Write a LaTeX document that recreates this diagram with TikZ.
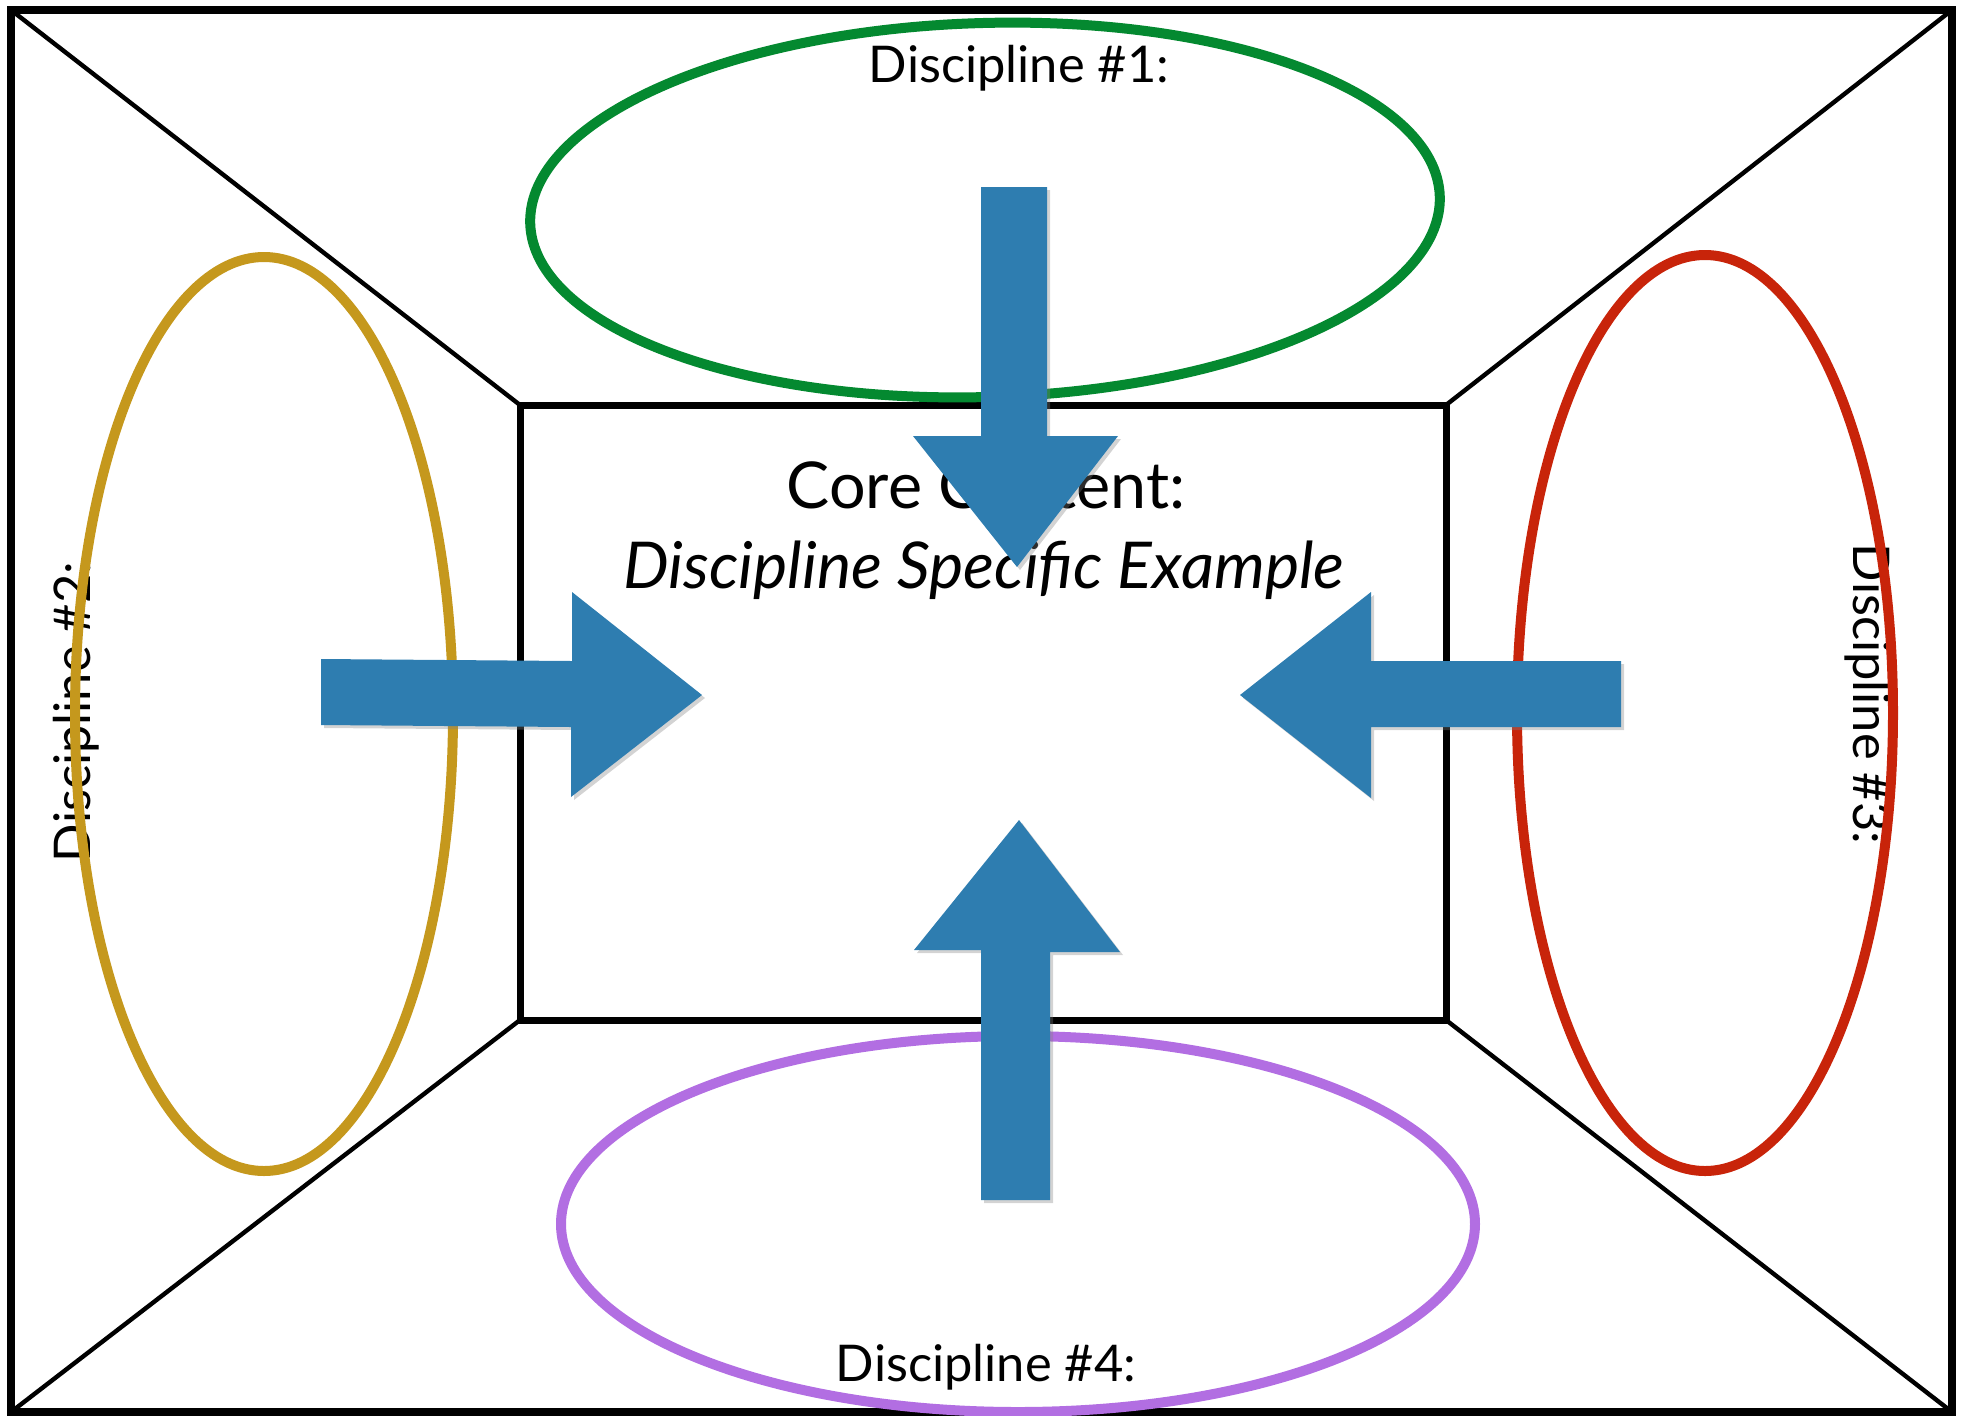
\documentclass[tikz,border=0pt]{standalone}
\usepackage{fontspec}
\setmainfont{Lato}
\usetikzlibrary{shapes.geometric,shadows}

\definecolor{ringgreen}{RGB}{4,137,48}
\definecolor{ringgold}{RGB}{197,152,29}
\definecolor{ringred}{RGB}{200,36,10}
\definecolor{ringpurple}{RGB}{178,110,226}
\definecolor{arrowblue}{RGB}{46,125,176}

\tikzset{
  ring/.style={ellipse,draw,line width=5pt,inner sep=0pt,fill=none},
  label/.style={inner sep=0pt,font=\fontsize{25.3}{30}\selectfont},
  corelabel/.style={inner sep=0pt,font=\fontsize{32.3}{38}\selectfont},
  bluearrow/.style={fill=arrowblue,drop shadow={shadow xshift=1.5pt,shadow yshift=-1.5pt,opacity=.35}}
}

\begin{document}
\begin{tikzpicture}
[x=0.5pt,y=-0.5pt]
  \useasboundingbox (0,0) rectangle (1965,1415);

  % frame and room corners
  \coordinate (o1) at (11,10);
  \coordinate (o2) at (1952,10);
  \coordinate (o3) at (1952,1412);
  \coordinate (o4) at (11,1412);
  \coordinate (i1) at (520,405);
  \coordinate (i2) at (1446,405);
  \coordinate (i3) at (1446,1020);
  \coordinate (i4) at (520,1020);

  \draw[line width=4pt] (o1) rectangle (o3);
  \foreach \from/\to in {o1/i1,o2/i2,o3/i3,o4/i4}
    \draw[line width=2.2pt] (\from) -- (\to);
  \draw[line width=3.5pt] (i1) rectangle (i3);

  % texts
  \node[corelabel,anchor=base] (core) at (986,508) {Core Content:};
  \node[corelabel,anchor=base] (example) at (984,588) {\itshape Discipline Specific Example};
  \node[label,anchor=base] (d1) at (1019,82) {Discipline \#1:};
  \node[label,anchor=base,rotate=90] (d2) at (90,712) {Discipline \#2:};
  \node[label,anchor=base,rotate=-90] (d3) at (1853,694) {Discipline \#3:};
  \node[label,anchor=base] (d4) at (986,1381) {Discipline \#4:};

  % rings
  \node[ring,draw=ringgreen,minimum width=455pt,minimum height=187pt,rotate=1.7] (e1) at (985,210) {};
  \node[ring,draw=ringgold,minimum width=189pt,minimum height=457pt] (e2) at (264,714) {};
  \node[ring,draw=ringred,minimum width=188pt,minimum height=458pt] (e3) at (1705,713) {};
  \node[ring,draw=ringpurple,minimum width=457pt,minimum height=188pt] (e4) at (1018,1224) {};

  % arrows
  \fill[bluearrow] (981,187) -- (1047,187) -- (1047,436) -- (1118,436) -- (1017,567) -- (913,436) -- (981,436) -- cycle;
  \fill[bluearrow] (321,659) -- (572,661) -- (572,592) -- (702,695) -- (571,797) -- (571,727) -- (321,725) -- cycle;
  \fill[bluearrow] (1621,661) -- (1371,661) -- (1371,592) -- (1240,695) -- (1371,798) -- (1371,727) -- (1621,727) -- cycle;
  \fill[bluearrow] (981,1200) -- (981,950) -- (914,950) -- (1019,820) -- (1120,952) -- (1050,952) -- (1050,1200) -- cycle;
\end{tikzpicture}
\end{document}
